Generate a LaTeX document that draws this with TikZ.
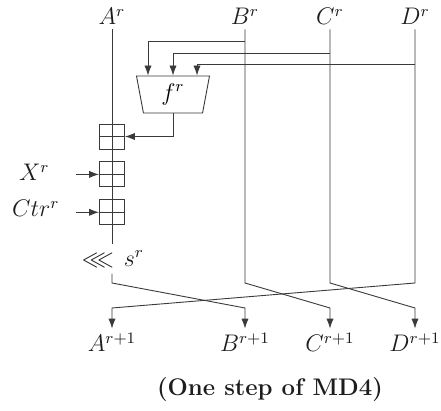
\documentclass[tikz,border=0pt]{standalone}
\usepackage{amsmath}
\usepackage{amssymb}
\usepackage{tikz}
\usetikzlibrary{arrows.meta,calc,positioning,shapes.geometric}
\definecolor{StepInk}{HTML}{3A3A3A}
\tikzset{
  >={Latex[length=5pt,width=3.6pt]},
  wire/.style={line width=0.45pt,draw=StepInk},
  flow/.style={->,line width=0.45pt,draw=StepInk},
  word/.style={inner sep=2pt,font=\large,text=StepInk!50!black},
  adder/.style={draw=StepInk,line width=0.45pt,minimum size=12.5pt,inner sep=0pt,
    path picture={\draw[StepInk,line width=0.45pt] (path picture bounding box.west)
      -- (path picture bounding box.east);}},
  roundfn/.style={draw=StepInk,line width=0.45pt,trapezium,trapezium angle=108,
    trapezium stretches body,minimum width=36.5pt,minimum height=18.5pt,
    inner sep=0pt,font=\large}
}

\begin{document}
\begin{tikzpicture}[x=0.5pt,y=-0.5pt,node distance=6pt]
        \useasboundingbox (0,0) rectangle (441,411);
        \node[word,anchor=base] (Ar) at (112,25) {$A^r$};
        \node[word,anchor=base] (Br) at (245,25) {$B^r$};
        \node[word,anchor=base] (Cr) at (330,25) {$C^r$};
        \node[word,anchor=base] (Dr) at (415,25) {$D^r$};
        \node[roundfn] (f) at (173,94.5) {$f^r$};
        \node[adder] (add1) at (112,136.5) {};
        \node[adder,below=of add1] (add2) {};
        \node[adder,below=of add2] (add3) {};
        \node[word,anchor=base east] (Xr) at (54,181) {$X^r$};
        \node[word,anchor=base east] (Ctr) at (64,217) {$Ctr^r$};
        \node[word,inner sep=3pt] (rot) at (113,259) {${\lll}\hspace{5pt}s^r$};
        \node[word,anchor=base] (Ao) at (112,352) {$A^{r+1}$};
        \node[word,anchor=base] (Bo) at (245,352) {$B^{r+1}$};
        \node[word,anchor=base] (Co) at (330,352) {$C^{r+1}$};
        \node[word,anchor=base] (Do) at (415,352) {$D^{r+1}$};
        \node[word,anchor=base] (caption) at (270,396) {\textbf{(One step of MD4)}};
        \coordinate (tapB) at (245,41);
        \coordinate (tapC) at (330,53);
        \coordinate (tapD) at (415,64);
        \coordinate (fB) at ($(f.north)+(-25,0)$);
        \coordinate (fD) at ($(f.north)+(24,0)$);
        \coordinate (xin) at ($(add2.west)+(-23,0)$);
        \coordinate (cin) at ($(add3.west)+(-23,0)$);
        \coordinate (twist) at (0,283);
        \coordinate (land) at (0,308);
        \draw[wire] (Ar) -- (rot.north -| Ar);
        \draw[flow] (tapB) -| (fB);
        \draw[flow] (tapC) -| (f.north);
        \draw[flow] (tapD) -| (fD);
        \draw[flow] (f) |- (add1);
        \draw[flow] (xin) -- (add2);
        \draw[flow] (cin) -- (add3);
        \draw[flow] (rot.south -| Ar) -- (twist -| Ar) -- (land -| Bo) -- (Bo);
        \draw[flow] (Br) -- (twist -| Br) -- (land -| Co) -- (Co);
        \draw[flow] (Cr) -- (twist -| Cr) -- (land -| Do) -- (Do);
        \draw[flow] (Dr) -- (twist -| Dr) -- (land -| Ao) -- (Ao);
      \end{tikzpicture}
\end{document}
